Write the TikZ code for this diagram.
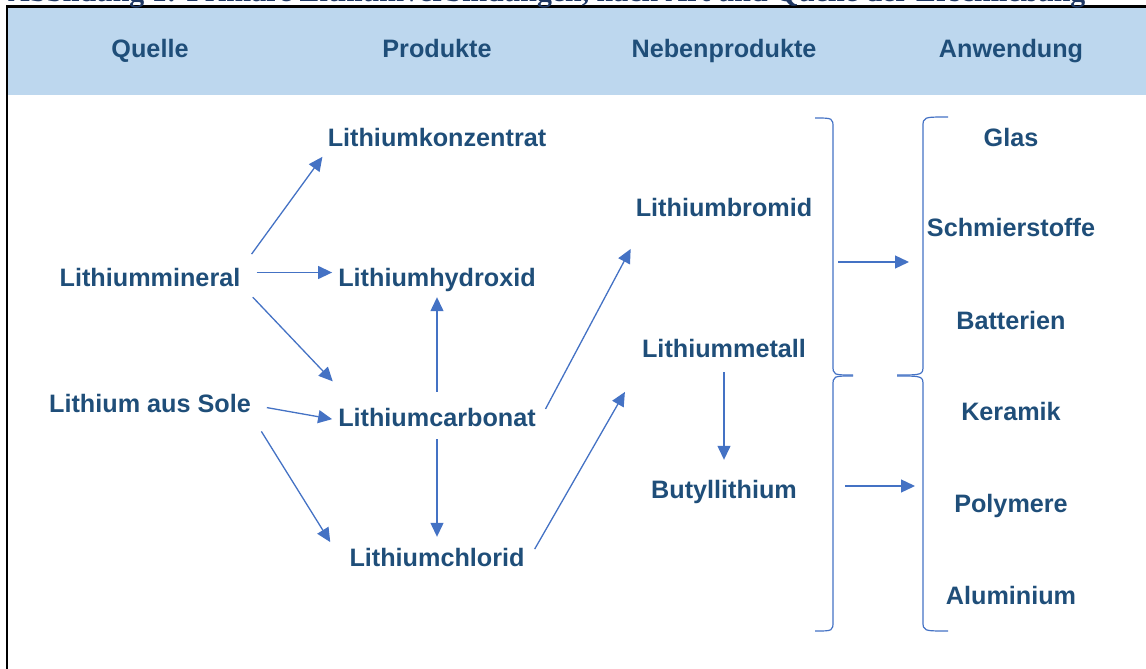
\documentclass[tikz,border=0pt]{standalone}
\usepackage{fontspec}
\setmainfont{Liberation Sans}
\newfontfamily\titlefont{Liberation Serif}
\usepackage{graphicx}
\usepackage{tikz}
\usetikzlibrary{arrows.meta}
\definecolor{textblau}{HTML}{1F4E79}
\definecolor{pfeilblau}{HTML}{4472C4}
\definecolor{kopfblau}{HTML}{BDD7EE}
\definecolor{titelblau}{HTML}{1F3864}

\begin{document}
\begin{tikzpicture}[x=1pt, y=-1pt,
    lbl/.style={text=textblau, font=\fontsize{25.2}{30}\selectfont\bfseries,
      inner xsep=4pt, inner ysep=4pt, text height=18pt, text depth=5pt},
    pfeil/.style={draw=pfeilblau, line width=1.3pt,
      -{Triangle[length=14pt,width=13pt]}, shorten >=2pt, shorten <=12pt},
    klammer/.style={draw=pfeilblau, line width=1.2pt}]
 \useasboundingbox (0,0) rectangle (1146,669);
 \clip (0,0) rectangle (1146,669);
 % Rahmen und Kopfzeile
 \fill[kopfblau] (8,8) rectangle (1146,95);
 \draw[line width=2.5pt] (7,669) -- (7,6.5) -- (1146,6.5);
 \node[anchor=base west, inner sep=0, text=titelblau] (titel) at (8,1.5)
   {\resizebox{1077pt}{!}{\titlefont\bfseries Abbildung 1: Primäre Lithiumverbindungen, nach Art und Quelle der Erschließung}};
 \node[lbl] (quelle) at (150,51.5) {Quelle};
 \node[lbl] (produkte) at (437,51.5) {Produkte};
 \node[lbl] (neben) at (724,51.5) {Nebenprodukte};
 \node[lbl] (anwendung) at (1011,51.5) {Anwendung};

 % Quellen und Produkte
 \node[lbl] (mineral) at (150,279.5) {Lithiummineral};
 \node[lbl] (sole) at (150,405.5) {Lithium aus Sole};
 \node[lbl] (konzentrat) at (437,139.5) {Lithiumkonzentrat};
 \node[lbl] (hydroxid) at (437,279.5) {Lithiumhydroxid};
 \node[lbl] (carbonat) at (437,419.5) {Lithiumcarbonat};
 \node[lbl] (chlorid) at (437,559.5) {Lithiumchlorid};
 \node[lbl] (bromid) at (724,209.5) {Lithiumbromid};
 \node[lbl] (metall) at (724,350.5) {Lithiummetall};
 \node[lbl] (butyl) at (724,491.5) {Butyllithium};

 % Anwendungen
 \node[lbl] (glas) at (1011,139.5) {Glas};
 \node[lbl] (schmier) at (1011,229.5) {Schmierstoffe};
 \node[lbl] (batterien) at (1011,322.5) {Batterien};
 \node[lbl] (keramik) at (1011,413.5) {Keramik};
 \node[lbl] (polymere) at (1011,505.5) {Polymere};
 \node[lbl] (alu) at (1011,597.5) {Aluminium};

 \draw[pfeil] (mineral.north east) -- (konzentrat.south west);
 \draw[pfeil] ([yshift=7pt]mineral.east) -- ([yshift=7pt]hydroxid.west);
 \draw[pfeil] ([yshift=-9pt]mineral.east) -- ([yshift=21pt]carbonat.north west);
 \draw[pfeil] (sole.east) -- (carbonat.west);
 \draw[pfeil] (sole.south east) -- ([xshift=-14pt]chlorid.north west);
 \draw[pfeil] (carbonat.north) -- (hydroxid.south);
 \draw[pfeil, shorten <=4pt] (carbonat.south) -- ([yshift=5pt]chlorid.north);
 \draw[pfeil] (carbonat.east) -- ([yshift=-22pt]bromid.south west);
 \draw[pfeil] (chlorid.east) -- ([xshift=-12pt,yshift=-24pt]metall.south west);
 \draw[pfeil, shorten <=6pt] (metall.south) -- ([yshift=14pt]butyl.north);

 % Klammern
 \draw[klammer] (815,118) .. controls (833,118) .. (833,128) -- (833,365)
   .. controls (833,375) .. (853,375);
 \draw[klammer] (853,376) .. controls (833,376) .. (833,386) -- (833,621)
   .. controls (833,631) .. (815,631);
 \draw[klammer] (948,117) .. controls (923,117) .. (923,127) -- (923,365)
   .. controls (923,375) .. (897,375);
 \draw[klammer] (897,376) .. controls (923,376) .. (923,386) -- (923,621)
   .. controls (923,631) .. (948,631);
 \coordinate (k1) at (838,262);
 \coordinate (k2) at (911,262);
 \coordinate (k3) at (845,486);
 \coordinate (k4) at (917,486);
 \draw[pfeil, shorten <=0pt] (k1) -- (k2);
 \draw[pfeil, shorten <=0pt] (k3) -- (k4);
\end{tikzpicture}
\end{document}
